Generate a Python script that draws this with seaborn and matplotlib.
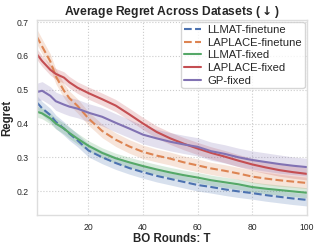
import numpy as np
import pandas as pd
import matplotlib
matplotlib.use("Agg")
import matplotlib.pyplot as plt
from matplotlib import font_manager as fm
import seaborn as sns

rounds = [1, 3, 6, 8, 11, 13, 16, 20, 25, 30, 35, 40, 45, 50, 55, 60, 65, 70, 75, 80, 85, 90, 95, 100]

llmat_ft = [0.463, 0.445, 0.425, 0.405, 0.385, 0.370, 0.350, 0.320, 0.300, 0.283, 0.268, 0.256, 0.245, 0.236, 0.227, 0.218, 0.212, 0.205, 0.199, 0.194, 0.188, 0.183, 0.178, 0.174]
llmat_ft_err = [0.020, 0.020, 0.020, 0.020, 0.020, 0.020, 0.019, 0.019, 0.019, 0.019, 0.018, 0.018, 0.018, 0.018, 0.018, 0.018, 0.018, 0.018, 0.018, 0.018, 0.018, 0.018, 0.018, 0.018]

laplace_ft = [0.658, 0.628, 0.584, 0.540, 0.497, 0.475, 0.452, 0.415, 0.378, 0.352, 0.332, 0.316, 0.305, 0.296, 0.285, 0.276, 0.267, 0.260, 0.252, 0.243, 0.237, 0.232, 0.228, 0.224]
laplace_ft_err = [0.022, 0.022, 0.022, 0.022, 0.021, 0.021, 0.021, 0.020, 0.020, 0.020, 0.020, 0.020, 0.019, 0.019, 0.019, 0.019, 0.018, 0.018, 0.018, 0.018, 0.018, 0.018, 0.017, 0.017]

llmat_fx = [0.435, 0.430, 0.415, 0.400, 0.385, 0.372, 0.355, 0.334, 0.313, 0.297, 0.285, 0.274, 0.264, 0.255, 0.247, 0.240, 0.232, 0.226, 0.220, 0.212, 0.207, 0.203, 0.199, 0.195]
llmat_fx_err = [0.016, 0.016, 0.016, 0.016, 0.016, 0.016, 0.016, 0.015, 0.015, 0.015, 0.015, 0.015, 0.015, 0.015, 0.015, 0.015, 0.015, 0.015, 0.015, 0.015, 0.015, 0.015, 0.015, 0.015]

laplace_fx = [0.606, 0.585, 0.559, 0.547, 0.536, 0.522, 0.506, 0.490, 0.472, 0.453, 0.427, 0.400, 0.375, 0.356, 0.340, 0.326, 0.313, 0.302, 0.290, 0.279, 0.270, 0.262, 0.256, 0.251]
laplace_fx_err = [0.016, 0.016, 0.016, 0.016, 0.017, 0.017, 0.017, 0.018, 0.018, 0.018, 0.018, 0.018, 0.018, 0.018, 0.018, 0.018, 0.018, 0.018, 0.018, 0.018, 0.018, 0.018, 0.018, 0.018]

gp_fx = [0.493, 0.497, 0.482, 0.466, 0.456, 0.450, 0.444, 0.432, 0.420, 0.402, 0.385, 0.367, 0.356, 0.346, 0.338, 0.331, 0.318, 0.310, 0.300, 0.292, 0.286, 0.280, 0.275, 0.271]
gp_fx_err = [0.026, 0.027, 0.027, 0.027, 0.027, 0.027, 0.027, 0.027, 0.027, 0.027, 0.027, 0.027, 0.027, 0.027, 0.027, 0.027, 0.027, 0.027, 0.027, 0.027, 0.027, 0.027, 0.026, 0.026]

labels = ["LLMAT-finetune", "LAPLACE-finetune", "LLMAT-fixed", "LAPLACE-fixed", "GP-fixed"]
means = [llmat_ft, laplace_ft, llmat_fx, laplace_fx, gp_fx]
errs = [llmat_ft_err, laplace_ft_err, llmat_fx_err, laplace_fx_err, gp_fx_err]
styles = ["--", "--", "-", "-", "-"]

sns.set_theme(style="whitegrid")
plt.rcParams["font.family"] = ["Liberation Sans", "DejaVu Sans"]
plt.rcParams["mathtext.fontset"] = "dejavusans"


def find_font(name, bold):
    for f in fm.fontManager.ttflist:
        if f.name != name:
            continue
        w = f.weight
        if isinstance(w, str):
            w = 700 if "bold" in w.lower() else 400
        if bold and w >= 600 and f.style == "normal":
            return f.fname
        if not bold and w < 600 and f.style == "normal":
            return f.fname
    return None


bold_path = find_font("Liberation Sans", True)
if bold_path:
    bold_fp = fm.FontProperties(fname=bold_path)
else:
    bold_fp = fm.FontProperties(family=["Liberation Sans", "DejaVu Sans"], weight="bold")

palette = sns.color_palette("deep")
colors = [palette[0], palette[1], palette[2], palette[3], palette[4]]

fig = plt.figure(figsize=(3.19, 2.48), dpi=100)
ax = fig.add_axes([0.115, 0.134, 0.846, 0.785])

for lab, m, e, ls, c in zip(labels, means, errs, styles, colors):
    df = pd.DataFrame({"T": rounds, "Regret": m})
    sns.lineplot(data=df, x="T", y="Regret", ax=ax, color=c, linestyle=ls,
                 linewidth=1.5, label=lab)
    lo = np.array(m) - np.array(e)
    hi = np.array(m) + np.array(e)
    ax.fill_between(rounds, lo, hi, color=c, alpha=0.22, linewidth=0)

ax.set_xlim(1, 100)
ax.set_xticks([20, 40, 60, 80, 100])
ax.set_yticks([0.2, 0.3, 0.4, 0.5, 0.6, 0.7])
ax.tick_params(axis="both", labelsize=6.2, length=0)
ax.tick_params(axis="x", pad=6)
ax.tick_params(axis="y", pad=5.5)
ax.grid(True, linestyle=":", color="#cccccc", linewidth=0.8)
for s in ax.spines.values():
    s.set_color("#dddddd")
    s.set_linewidth(1.0)

tfp = bold_fp.copy()
tfp.set_size(8.7)
lfp = bold_fp.copy()
lfp.set_size(8.3)
ax.set_title(r"Average Regret Across Datasets ($\mathbf{\downarrow}$)", fontproperties=tfp, pad=3.5)
ax.set_xlabel("BO Rounds: T", fontproperties=lfp, labelpad=1)
ax.set_ylabel("Regret", fontproperties=lfp, labelpad=3)

leg = ax.legend(loc="upper right", fontsize=8.1, handlelength=1.5, borderaxespad=0.17,
                labelspacing=0.24, handletextpad=0.55, borderpad=0.25, frameon=True)

fig.savefig("out.png", dpi=100)
